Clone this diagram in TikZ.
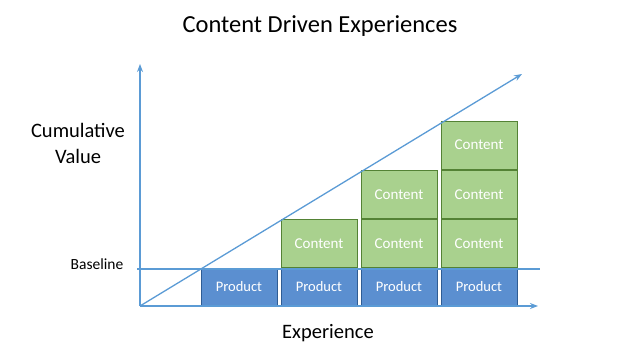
\documentclass[tikz,border=0pt]{standalone}
\usepackage{fontspec}
\setmainfont{Carlito}
\usepackage{xcolor}
\usepackage{tikz}
\usetikzlibrary{positioning,arrows.meta}

\definecolor{axisblue}{HTML}{5B9BD5}
\definecolor{prodfill}{HTML}{5B8FD0}
\definecolor{prodline}{HTML}{2E5C94}
\definecolor{contfill}{HTML}{A9D18E}
\definecolor{contline}{HTML}{548235}

\begin{document}
\begin{tikzpicture}[x=1pt, y=-1pt, >={Stealth[length=8pt,width=6pt]},
    product/.style={draw=prodline, fill=prodfill, text=white, minimum width=76pt, minimum height=36pt, inner sep=0pt, font=\fontsize{14.5}{17}\selectfont},
    content/.style={draw=contline, fill=contfill, text=white, minimum width=76pt, minimum height=48pt, inner sep=0pt, font=\fontsize{15}{17}\selectfont}]
  \useasboundingbox (0,0) rectangle (640,361);
  % axes
  \coordinate (origin) at (140,306);
  \coordinate (ytop) at (140,64);
  \coordinate (xend) at (538,306);
  \coordinate (diag) at (522,74);
  \coordinate (bl-left) at (137,269);
  \coordinate (bl-right) at (540,269);
  % product row
  \node[product] (p1) at (239,287) {Product};
  \node[product] (p2) at (319,287) {Product};
  \node[product] (p3) at (399,287) {Product};
  \node[product] (p4) at (479,287) {Product};
  % content stacks
  \node[content, above=1pt of p2] (c21) {Content};
  \node[content, above=1pt of p3] (c31) {Content};
  \node[content, above=1pt of c31] (c32) {Content};
  \node[content, above=1pt of p4] (c41) {Content};
  \node[content, above=1pt of c41] (c42) {Content};
  \node[content, above=1pt of c42] (c43) {Content};
  \draw[axisblue, line width=1.5pt, ->] (origin) -- (ytop);
  \draw[axisblue, line width=1.5pt, ->] (origin) -- (xend);
  \draw[axisblue, line width=1.3pt, ->] (origin) -- (diag);
  \draw[axisblue, line width=1.3pt] (bl-left) -- (bl-right);
  % labels
  \node[font=\fontsize{24.5}{28}\selectfont] (title) at (320,26) {Content Driven Experiences};
  \node[font=\fontsize{20.5}{26}\selectfont, align=center] (yl) at (78,143) {Cumulative\\Value};
  \node[font=\fontsize{20.5}{24}\selectfont] (xl) at (328,333) {Experience};
  \node[font=\fontsize{15.5}{18}\selectfont] (bl) at (97,264) {Baseline};
\end{tikzpicture}
\end{document}
